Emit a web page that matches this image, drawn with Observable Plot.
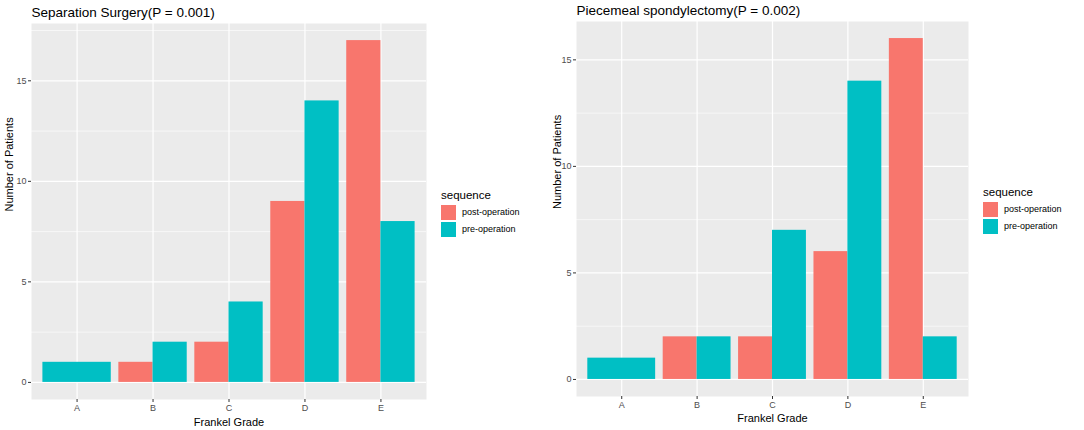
<!DOCTYPE html>
<html>
<head>
<meta charset="utf-8">
<script src="https://cdn.jsdelivr.net/npm/d3@7"></script>
<script src="https://cdn.jsdelivr.net/npm/@observablehq/plot@0.6"></script>
<style>
  html, body { margin: 0; padding: 0; background: #fff; }
  #wrap { position: relative; width: 1084px; height: 430px; font-family: "Liberation Sans", Arial, sans-serif; }
  .panel { position: absolute; top: 0; }
  .legend { position: absolute; font-family: "Liberation Sans", Arial, sans-serif; color: #000; }
  .legend .lt { font-size: 11.5px; margin-bottom: 3px; }
  .legend .row { display: flex; align-items: center; height: 16px; margin-top: 1px; }
  .legend .key { width: 15px; height: 15px; margin-right: 6px; }
  .legend .lab { font-size: 9px; color: #000; }
</style>
</head>
<body>
<div id="wrap"></div>
<script>
const grades = ["A", "B", "C", "D", "E"];
const sequences = ["post-operation", "pre-operation"];
const seqColors = ["#F8766D", "#00BFC4"];

const sepTitle = "Separation Surgery(P = 0.001)";
const sepPost = [null, 1, 2, 9, 17];
const sepPre = [1, 2, 4, 14, 8];

const pieceTitle = "Piecemeal spondylectomy(P = 0.002)";
const piecePost = [null, 2, 2, 6, 16];
const piecePre = [1, 2, 7, 14, 2];

const yTicks = [0, 5, 10, 15];
const yMinor = [2.5, 7.5, 12.5, 17.5];

function buildRows(post, pre) {
  const rows = [];
  grades.forEach((g, i) => {
    const c = i + 1;
    if (post[i] == null) {
      rows.push({grade: g, seq: sequences[1], x1: c - 0.45, x2: c + 0.45, v: pre[i]});
    } else {
      rows.push({grade: g, seq: sequences[0], x1: c - 0.45, x2: c, v: post[i]});
      rows.push({grade: g, seq: sequences[1], x1: c, x2: c + 0.45, v: pre[i]});
    }
  });
  return rows;
}

function panel({title, post, pre, width, mL, mR, mT, mB, titleDy, yLabDx, xLabDy}) {
  const rows = buildRows(post, pre);
  const maxV = d3.max(rows, d => d.v);
  const pad = maxV * 0.05;
  const minor = yMinor.filter(t => t < maxV + pad);
  return Plot.plot({
    width, height: 430,
    marginLeft: mL, marginRight: mR, marginTop: mT, marginBottom: mB,
    style: {fontFamily: "Liberation Sans, Arial, sans-serif", background: "transparent", overflow: "visible"},
    x: {type: "linear", domain: [0.4, 5.6]},
    y: {domain: [-pad, maxV + pad]},
    color: {domain: sequences, range: seqColors},
    marks: [
      Plot.frame({fill: "#EBEBEB", stroke: null}),
      Plot.gridY(minor, {stroke: "#fff", strokeOpacity: 1, strokeWidth: 0.6}),
      Plot.gridY(yTicks, {stroke: "#fff", strokeOpacity: 1, strokeWidth: 1.2}),
      Plot.gridX([1, 2, 3, 4, 5], {stroke: "#fff", strokeOpacity: 1, strokeWidth: 1.2}),
      Plot.rect(rows, {x1: "x1", x2: "x2", y1: 0, y2: "v", fill: "seq"}),
      Plot.axisY({ticks: yTicks, tickSize: 3, tickPadding: 2, fontSize: 9, stroke: "#333", fill: "#4D4D4D", label: null}),
      Plot.axisX({ticks: [1, 2, 3, 4, 5], tickFormat: d => grades[d - 1], tickSize: 3, tickPadding: 2, fontSize: 9, stroke: "#333", fill: "#4D4D4D", label: null}),
      Plot.text([title], {frameAnchor: "top-left", textAnchor: "start", lineAnchor: "middle", dy: titleDy, fontSize: 13.5, fill: "#000"}),
      Plot.text(["Number of Patients"], {frameAnchor: "left", dx: yLabDx, rotate: -90, lineAnchor: "middle", fontSize: 11, fill: "#000"}),
      Plot.text(["Frankel Grade"], {frameAnchor: "bottom", lineAnchor: "middle", dy: xLabDy, fontSize: 11, fill: "#000"})
    ]
  });
}

function legend(left, top) {
  const div = document.createElement("div");
  div.className = "legend";
  div.style.left = left + "px";
  div.style.top = top + "px";
  let html = '<div class="lt">sequence</div>';
  sequences.forEach((s, i) => {
    html += `<div class="row"><div class="key" style="background:${seqColors[i]}"></div><div class="lab">${s}</div></div>`;
  });
  div.innerHTML = html;
  return div;
}

const wrap = document.getElementById("wrap");

const p1 = panel({title: sepTitle, post: sepPost, pre: sepPre, width: 540, mL: 31, mR: 114, mT: 23, mB: 31, titleDy: -11, yLabDx: -22, xLabDy: 23});
p1.classList.add("panel");
p1.style.left = "0px";
wrap.appendChild(p1);

const p2 = panel({title: pieceTitle, post: piecePost, pre: piecePre, width: 544, mL: 36, mR: 116, mT: 21, mB: 34, titleDy: -11, yLabDx: -19, xLabDy: 22});
p2.classList.add("panel");
p2.style.left = "540px";
wrap.appendChild(p2);

wrap.appendChild(legend(441, 189));
wrap.appendChild(legend(983, 186));
</script>
</body>
</html>
